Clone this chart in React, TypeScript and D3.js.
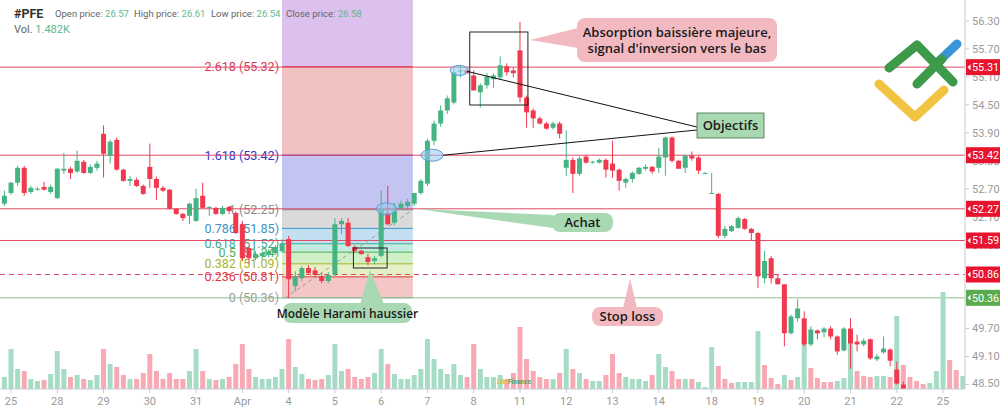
import React from "react";
import * as d3 from "d3";

// ---------- DATA ----------
const dayLabels = ["", "25", "28", "29", "30", "31", "Apr", "4", "5", "6", "7", "8", "11", "12", "13", "14", "18", "19", "20", "21", "22", "25"];
const dayCounts = [1, 7, 7, 7, 7, 7, 7, 7, 7, 7, 7, 7, 7, 7, 7, 8, 7, 7, 7, 7, 7, 4];

const opens = [52.38,52.61,52.83,53.15,52.63,52.68,52.74,52.63,52.50,53.09,53.13,53.07,53.28,53.04,53.15,53.88,53.41,53.75,53.11,52.87,52.89,52.76,53.17,52.91,52.72,52.68,52.27,52.16,52.12,52.01,52.55,52.29,52.29,52.16,52.31,52.18,51.94,51.43,51.21,51.26,51.28,51.32,51.36,51.62,50.61,50.78,51.00,50.95,50.82,50.72,50.87,51.94,51.97,51.45,51.37,51.23,51.15,51.26,52.18,51.97,52.29,52.33,52.38,52.61,52.81,53.73,54.10,54.38,54.55,55.24,55.24,55.13,54.77,54.92,55.05,55.09,55.33,55.24,55.67,54.66,54.38,54.21,54.10,54.01,54.10,53.15,53.32,53.02,53.39,53.28,53.26,53.32,53.24,53.11,52.83,52.91,53.02,53.13,53.17,53.15,53.37,53.80,53.30,53.15,53.41,53.37,53.04,52.59,52.59,51.69,51.79,51.86,52.05,51.84,51.75,50.78,51.21,50.78,50.65,49.60,49.92,49.92,49.36,49.66,49.62,49.70,49.53,49.23,49.70,49.42,49.36,49.47,49.04,49.19,49.25,48.82,48.50];
const highs = [52.66,52.85,53.19,53.19,52.76,52.74,52.85,52.79,53.15,53.47,53.17,53.52,53.32,53.22,53.30,54.06,53.75,53.80,53.13,52.98,52.94,52.79,53.67,52.96,52.76,52.70,52.29,52.18,52.40,52.70,52.83,52.33,52.31,52.33,52.33,52.22,52.01,51.47,51.36,51.36,51.41,51.49,51.62,51.69,50.93,51.04,51.06,51.02,50.89,50.91,52.07,52.07,52.07,51.49,51.39,51.30,51.26,52.66,52.76,52.40,52.44,52.48,52.55,52.91,53.78,54.16,54.49,54.70,55.28,55.35,55.28,55.24,54.96,55.18,55.18,55.54,55.39,55.31,56.28,54.70,54.42,54.25,54.14,54.14,54.14,53.95,53.37,53.39,53.43,53.30,53.35,53.35,53.73,53.13,52.94,53.07,53.17,53.22,53.19,53.58,53.82,53.82,53.32,53.43,53.50,53.41,53.06,53.04,52.61,51.90,51.92,52.10,52.07,51.86,51.77,51.37,51.26,50.87,50.65,50.00,50.33,50.07,49.75,49.68,49.73,49.75,49.55,49.73,49.92,49.57,49.49,49.49,49.16,49.53,49.27,48.99,48.56];
const lows = [52.33,52.57,52.76,52.55,52.59,52.66,52.66,52.59,52.48,53.02,52.91,53.04,53.02,53.02,53.09,52.94,53.24,53.09,52.85,52.76,52.74,52.57,52.72,52.46,52.63,52.25,52.14,52.01,51.94,51.99,52.27,52.12,52.14,52.14,52.16,51.73,51.15,51.10,51.17,51.19,51.23,51.28,51.34,50.35,50.50,50.72,50.85,50.80,50.67,50.67,50.82,51.73,51.45,51.34,51.28,51.06,51.08,51.23,51.92,51.92,52.25,52.27,52.33,52.57,52.76,53.63,54.03,54.31,54.51,55.09,55.16,54.81,54.44,54.85,54.87,55.03,55.13,55.09,54.55,54.01,54.01,54.08,53.97,53.97,53.78,52.98,52.61,52.98,53.24,53.24,53.24,52.94,52.94,52.66,52.72,52.83,53.00,53.09,53.02,53.04,52.98,53.26,53.13,53.04,53.30,53.02,53.04,52.59,51.64,51.64,51.77,51.84,51.82,51.58,50.57,50.67,50.67,50.65,49.32,49.57,49.85,49.32,49.32,49.47,49.51,49.47,49.14,49.21,48.84,49.21,49.32,49.03,49.00,49.16,48.89,48.50,48.30];
const closes = [52.55,52.83,53.15,52.61,52.72,52.70,52.68,52.74,53.13,53.13,53.04,53.30,53.04,53.17,53.24,53.45,53.71,53.11,52.87,52.91,52.76,52.59,52.91,52.72,52.66,52.27,52.16,52.07,52.38,52.50,52.29,52.31,52.16,52.29,52.22,51.75,51.21,51.21,51.30,51.32,51.36,51.45,51.53,50.76,50.82,51.00,50.89,50.85,50.72,50.85,51.94,52.01,51.47,51.37,51.30,51.13,51.21,52.27,51.94,52.22,52.38,52.42,52.61,52.87,53.73,54.10,54.38,54.64,55.20,55.24,55.18,54.81,54.92,55.11,55.13,55.35,55.20,55.18,54.66,54.34,54.21,54.10,53.99,54.10,53.88,53.32,53.02,53.35,53.26,53.28,53.32,53.11,53.09,52.87,52.91,53.04,53.15,53.17,53.07,53.39,53.80,53.30,53.13,53.41,53.35,53.09,53.04,52.61,51.69,51.84,51.90,52.07,51.84,51.75,50.82,51.15,50.78,50.65,49.60,49.96,50.13,49.36,49.68,49.60,49.70,49.53,49.21,49.70,49.38,49.36,49.44,49.06,49.10,49.27,49.01,48.52,48.39];

const volumes = [120,400,200,180,100,80,90,150,380,200,120,140,100,90,140,400,250,220,140,100,100,160,350,180,100,160,100,100,180,400,180,100,90,100,120,250,450,200,120,100,100,120,200,500,220,150,100,90,100,140,450,180,200,120,100,120,160,400,250,150,100,100,140,200,500,300,200,150,250,140,120,450,200,120,120,140,100,160,620,300,180,120,100,100,160,400,200,160,100,80,80,140,350,160,120,100,100,80,140,350,220,180,100,100,100,70,20,420,230,100,60,70,70,70,580,240,110,50,140,90,120,530,210,110,70,70,80,110,470,180,130,120,130,130,120,730,240,120,80,50,60,180,970,290,190,130];
const volumeDir = "GGGRGGRGGGRGRGGRGRRGRRRRRRRRGGRGRGRRRRGGGGGRGGRRRGGGRRRRGGRGGGGGGGGGGGRRGGGGRRRRRRRGRGRGRGGRRRGGGGRGGRRGRGGGRRRGGGGRRRGRGGRRRRGGGRRRGGRGRRRRGGGRRG";

const rightTicks = [56.3, 55.7, 55.1, 54.5, 53.9, 53.3, 52.7, 52.1, 51.5, 50.9, 50.3, 49.7, 49.1, 48.5];

const fibRatios = ["2.618", "1.618", "1", "0.786", "0.618", "0.5", "0.382", "0.236", "0"];
const fibPrices = [55.32, 53.42, 52.25, 51.85, 51.52, 51.34, 51.09, 50.81, 50.36];
const fibColors = ["#d83a52", "#3434c8", "#8a8a8a", "#3b93c9", "#3aa891", "#4caf50", "#a5b52a", "#e0393e", "#9a9a9a"];
const fibBands = ["#dcc0ee", "#f1c0c0", "#c4c4f2", "#dadada", "#c2e0f2", "#c2ece0", "#d2f0c8", "#e6f0c6", "#f4c6c6"];

const hLevels = [55.31, 53.42, 52.27, 51.59, 50.86, 50.36];
const hKinds = ["red", "red", "red", "red", "dash", "green"];

// ---------- LAYOUT ----------
const W = 1000, H = 411;
const plotRight = 965, axisY = 389;
const nCandles = volumes.length;
const x = d3.scaleLinear().domain([0, nCandles - 1]).range([4.4, 962.85]);
const y = d3.scaleLinear().domain([48.5, 56.3]).range([384.5, 21]);
const vy = d3.scaleLinear().domain([0, 1000]).range([axisY, axisY - 100]);

const GREEN = "#45b482", RED = "#f0394e";
const VGREEN = "#a6dcc6", VRED = "#f7aab3";
const FONT = "Roboto, 'Noto Sans', sans-serif";
const CFONT = "'Open Sans', 'Noto Sans', sans-serif";

const dayStarts: number[] = [];
{
  let acc = 0;
  dayCounts.forEach((c) => { dayStarts.push(acc); acc += c; });
}

export default function App() {
  const fmt = d3.format(".2f");
  const zoneL = x(42), zoneR = x(61.8);
  const bandTops = [0, ...fibPrices.slice(0, -1).map((p) => y(p))];
  const bandBottoms = fibPrices.map((p) => y(p));

  return (
    <svg width={W} height={H} style={{ position: "absolute", left: 0, top: 0, background: "#fff" }} fontFamily={FONT}>
      <defs>
        <clipPath id="plot"><rect x={0} y={0} width={plotRight} height={axisY} /></clipPath>
      </defs>
      <rect x={0} y={0} width={W} height={H} fill="#fff" />

      {/* Fibonacci zone */}
      <g>
        {fibBands.map((c, i) => (
          <rect key={i} x={zoneL} width={zoneR - zoneL} y={bandTops[i]} height={bandBottoms[i] - bandTops[i]} fill={c} />
        ))}
        {fibPrices.map((p, i) => (
          <line key={i} x1={zoneL} x2={zoneR} y1={y(p)} y2={y(p)} stroke={fibColors[i]} strokeWidth={1} />
        ))}
      </g>

      {/* header */}
      <g>
        <text x={14} y={18} fontSize={12.5} fontWeight={700} fill="#333">#PFE</text>
        <text x={55} y={17} fontSize={9.5} fill="#666">Open price: <tspan fill="#5cba8c">26.57</tspan></text>
        <text x={134} y={17} fontSize={9.5} fill="#666">High price: <tspan fill="#5cba8c">26.61</tspan></text>
        <text x={211} y={17} fontSize={9.5} fill="#666">Low price: <tspan fill="#5cba8c">26.54</tspan></text>
        <text x={286} y={17} fontSize={9.5} fill="#666">Close price: <tspan fill="#5cba8c">26.58</tspan></text>
        <text x={14} y={33} fontSize={11} fill="#666">Vol. <tspan fill="#5cba8c">1.482K</tspan></text>
      </g>

      {/* fib labels */}
      {fibPrices.map((p, i) => (
        <text key={i} x={279} y={y(p)} dy="0.35em" textAnchor="end" fontSize={12.5} fill={fibColors[i]}>
          {`${fibRatios[i]} (${fmt(p)})`}
        </text>
      ))}

      {/* horizontal levels */}
      {hLevels.map((p, i) => (
        <line key={i} x1={0} x2={plotRight} y1={y(p)} y2={y(p)}
          stroke={hKinds[i] === "green" ? "#8cbf8c" : "#e04a64"} strokeWidth={1}
          strokeDasharray={hKinds[i] === "dash" ? "5,4" : undefined} />
      ))}

      {/* dashed trend of fib */}
      <line x1={x(42.5)} y1={y(50.36)} x2={zoneR} y2={y(52.25)} stroke="#9a9a9a" strokeWidth={1} strokeDasharray="4,3" />

      {/* volume */}
      <g clipPath="url(#plot)">
        {volumes.map((v, i) => (
          <rect key={i} x={x(i) - 2.5} width={5} y={vy(v)} height={axisY - vy(v)} fill={volumeDir[i] === "G" ? VGREEN : VRED} />
        ))}
      </g>

      {/* candles */}
      <g clipPath="url(#plot)">
        {opens.map((o, i) => {
          const c = closes[i];
          const up = c >= o;
          const col = up ? GREEN : RED;
          const top = y(Math.max(o, c)), bot = y(Math.min(o, c));
          return (
            <g key={i}>
              <line x1={x(i)} x2={x(i)} y1={y(highs[i])} y2={y(lows[i])} stroke={col} strokeWidth={1} />
              <rect x={x(i) - 2.5} width={5} y={top} height={Math.max(1, bot - top)} fill={col} />
            </g>
          );
        })}
      </g>

      {/* pattern boxes */}
      <rect x={x(70.4)} y={32} width={x(79.2) - x(70.4)} height={73} fill="none" stroke="#222" strokeWidth={1} />
      <rect x={x(52.8)} y={248} width={x(57.9) - x(52.8)} height={20} fill="none" stroke="#222" strokeWidth={1} />

      {/* ellipses */}
      <ellipse cx={x(68.8)} cy={y(55.24)} rx={9} ry={5} fill="rgba(150,200,240,0.55)" stroke="#5a9ad8" strokeWidth={1} />
      <ellipse cx={x(64.7)} cy={y(53.42)} rx={11} ry={6} fill="rgba(150,200,240,0.55)" stroke="#5a9ad8" strokeWidth={1} />
      <ellipse cx={x(57.8)} cy={y(52.27)} rx={10} ry={6} fill="rgba(150,200,240,0.55)" stroke="#5a9ad8" strokeWidth={1} />

      {/* objective lines */}
      <line x1={x(70)} y1={y(55.22)} x2={697} y2={127} stroke="#111" strokeWidth={1} />
      <line x1={x(66.4)} y1={y(53.42)} x2={697} y2={130} stroke="#111" strokeWidth={1} />

      {/* Absorption callout */}
      <path d="M530,40 L578,28 L578,48 Z" fill="#f2b9c1" />
      <rect x={577} y={18} width={200} height={44} rx={8} fill="#f2b9c1" />
      <text x={677} y={37} textAnchor="middle" fontSize={13} fontFamily={CFONT} fontWeight={600} fill="#1a1a1a">Absorption baissière majeure,</text>
      <text x={677} y={53} textAnchor="middle" fontSize={13} fontFamily={CFONT} fontWeight={600} fill="#1a1a1a">signal d'inversion vers le bas</text>

      {/* Objectifs */}
      <rect x={697} y={113} width={67} height={25} fill="#a9d9b3" stroke="#3d6b48" strokeWidth={0.8} />
      <text x={730.5} y={130} textAnchor="middle" fontSize={13} fontFamily={CFONT} fontWeight={600} fill="#1a1a1a">Objectifs</text>

      {/* Achat */}
      <path d={`M${zoneR + 3},${y(52.27)} L553,215 L553,228 Z`} fill="#a9d9b3" />
      <rect x={552} y={213} width={61} height={19} rx={8} fill="#a9d9b3" />
      <text x={582.5} y={227} textAnchor="middle" fontSize={13} fontFamily={CFONT} fontWeight={600} fill="#1a1a1a">Achat</text>

      {/* Stop loss */}
      <path d={`M630,${y(50.86) + 4} L623,308 L637,308 Z`} fill="#f2b9c1" />
      <rect x={592} y={307} width={71} height={19} rx={8} fill="#f2b9c1" />
      <text x={627.5} y={321} textAnchor="middle" fontSize={13} fontFamily={CFONT} fontWeight={600} fill="#1a1a1a">Stop loss</text>

      {/* Harami */}
      <path d="M370,270 L360,304 L384,304 Z" fill="#a9d9b3" />
      <rect x={283} y={303} width={129} height={20} rx={8} fill="#a9d9b3" />
      <text x={347.5} y={317.5} textAnchor="middle" fontSize={12} fontFamily={CFONT} fontWeight={600} fill="#1a1a1a">Modèle Harami haussier</text>

      {/* logo */}
      <g fill="none" strokeLinecap="round" strokeLinejoin="round" strokeWidth={9}>
        <path d="M879,84 L915,117 L944,90" stroke="#f2c341" />
        <path d="M938,62 L957,44" stroke="#3a95d8" />
        <path d="M889,68 L917,45 L953,82" stroke="#3d9a49" />
        <path d="M917,84 L942,59" stroke="#3d9a49" />
      </g>

      {/* watermark */}
      <text x={497} y={384} fontSize={6.5} fontWeight={700} fill="#e8b830">Lite<tspan fill="#4ca35a">Finance</tspan></text>

      {/* right axis */}
      <line x1={plotRight} x2={plotRight} y1={0} y2={axisY} stroke="#c5ccd6" strokeWidth={1} />
      {rightTicks.map((t, i) => (
        <g key={i}>
          <line x1={plotRight} x2={plotRight + 4} y1={y(t)} y2={y(t)} stroke="#c5ccd6" />
          <text x={972} y={Math.min(y(t), 383)} dy="0.35em" fontSize={11} fill="#9a9a9a">{fmt(t)}</text>
        </g>
      ))}
      {hLevels.map((p, i) => {
        const cy = y(p);
        const fill = hKinds[i] === "green" ? "#5aab4e" : "#e8132c";
        return (
          <g key={i}>
            <rect x={plotRight + 1} y={cy - 8} width={W - plotRight - 1} height={16} fill={fill} />
            <path d={`M967.5,${cy} L970.5,${cy - 3} L970.5,${cy + 3} Z`} fill="#fff" />
            <text x={972} y={cy} dy="0.35em" fontSize={10.8} fill="#fff">{fmt(p)}</text>
          </g>
        );
      })}

      {/* bottom axis */}
      <line x1={0} x2={plotRight} y1={axisY} y2={axisY} stroke="#c5ccd6" strokeWidth={1} />
      {dayLabels.map((lab, i) => lab === "" ? null : (
        <g key={i}>
          <line x1={x(dayStarts[i])} x2={x(dayStarts[i])} y1={axisY} y2={axisY + 4} stroke="#c5ccd6" />
          <text x={x(dayStarts[i])} y={405} textAnchor="middle" fontSize={11} fill="#9a9a9a">{lab}</text>
        </g>
      ))}
    </svg>
  );
}
